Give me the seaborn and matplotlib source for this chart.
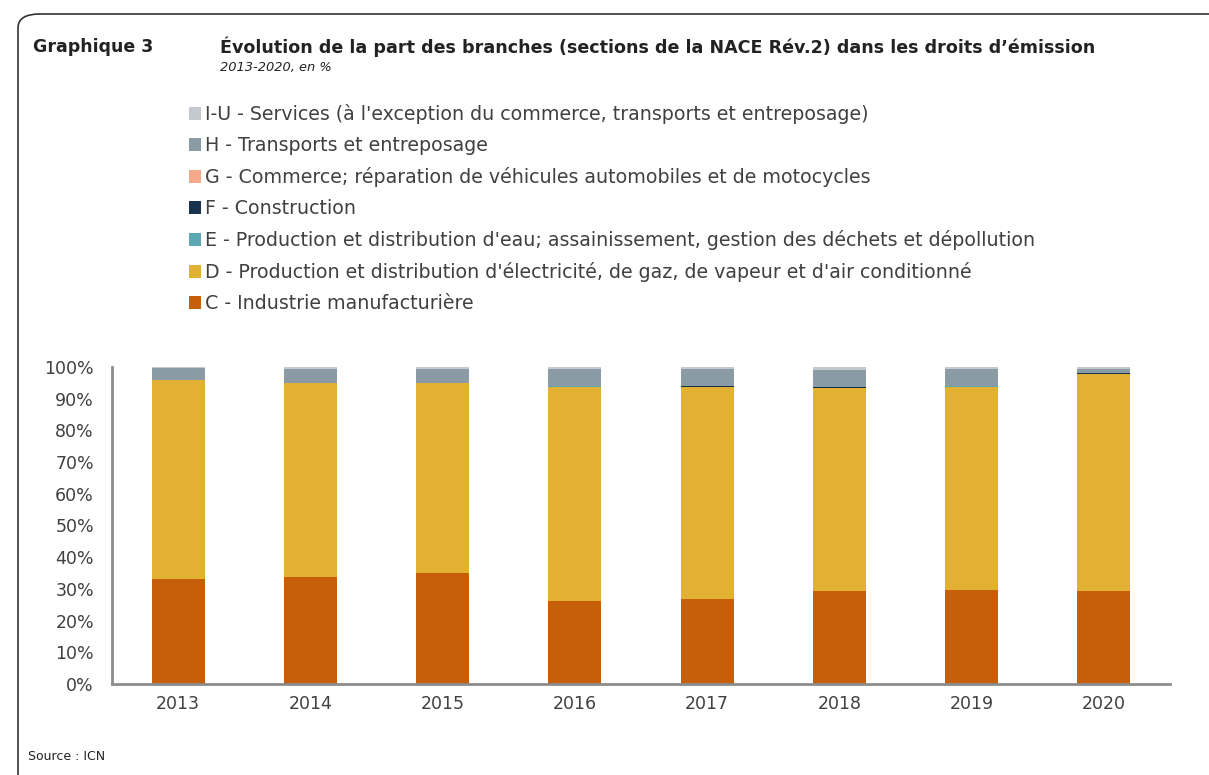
import numpy as np
import pandas as pd
import matplotlib
matplotlib.use("Agg")
import matplotlib.pyplot as plt
import seaborn as sns
from matplotlib.patches import FancyBboxPatch, Patch

sns.set_style("white")
plt.rcParams['font.family'] = ['DejaVu Sans']

years = ["2013", "2014", "2015", "2016", "2017", "2018", "2019", "2020"]
C = [33.0, 33.7, 35.0, 26.1, 26.9, 29.2, 29.7, 29.2]
D = [62.8, 61.2, 59.9, 67.6, 66.8, 64.2, 64.0, 68.6]
E = [0.0, 0.0, 0.0, 0.3, 0.1, 0.1, 0.2, 0.1]
F = [0.0, 0.0, 0.0, 0.1, 0.3, 0.3, 0.1, 0.3]
G = [0.0, 0.0, 0.0, 0.0, 0.0, 0.0, 0.0, 0.0]
H = [4.0, 4.5, 4.5, 5.3, 5.3, 5.3, 5.4, 1.2]
IU = [0.2, 0.6, 0.6, 0.6, 0.6, 0.9, 0.6, 0.6]

labels = [
    "C - Industrie manufacturière",
    "D - Production et distribution d'électricité, de gaz, de vapeur et d'air conditionné",
    "E - Production et distribution d'eau; assainissement, gestion des déchets et dépollution",
    "F - Construction",
    "G - Commerce; réparation de véhicules automobiles et de motocycles",
    "H - Transports et entreposage",
    "I-U - Services (à l'exception du commerce, transports et entreposage)",
]
colors = ["#C55F09", "#E2B033", "#5BA8B5", "#17324F", "#F5A88A", "#8A9BA5", "#C3C9CF"]
series = [C, D, E, F, G, H, IU]

df = pd.DataFrame({"year": years})
cum = np.zeros(len(years))
cols = []
for i, s in enumerate(series):
    cum = cum + np.array(s)
    df[f"cum{i}"] = cum
    cols.append(f"cum{i}")

fig = plt.figure(figsize=(12.09, 7.75), dpi=100)
ax = fig.add_axes([112/1209, 1-684/775, (1170-112)/1209, (684-367)/775])

for i in reversed(range(len(series))):
    sns.barplot(data=df, x="year", y=cols[i], color=colors[i], width=0.4,
                saturation=1, ax=ax, order=years, errorbar=None, linewidth=0)

ax.set_xlabel("")
ax.set_ylabel("")
ax.set_ylim(0, 100)
ax.set_xlim(-0.5, 7.5)
gray = "#8C8C8C"
txt = "#404040"
for side in ["top", "right"]:
    ax.spines[side].set_visible(False)
for side in ["left", "bottom"]:
    ax.spines[side].set_color(gray)
    ax.spines[side].set_linewidth(2)
ax.set_yticks(np.arange(0, 101, 10))
ax.set_yticklabels([f"{v}%" for v in range(0, 101, 10)], fontsize=12.5, color=txt)
ax.set_xticks(range(len(years)))
ax.set_xticklabels(years, fontsize=12.5, color=txt)
ax.set_xticks(np.arange(-0.5, 8, 1), minor=True)
ax.tick_params(axis="x", which="major", length=0, pad=8)
ax.tick_params(axis="x", which="minor", length=6, width=2, color=gray, direction="out")
ax.tick_params(axis="y", which="major", length=6, width=2, color=gray, direction="out", pad=7)

handles = [Patch(facecolor=colors[i], edgecolor="none", label=labels[i]) for i in reversed(range(len(series)))]
fig.legend(handles=handles, loc="upper left", bbox_to_anchor=(189/1209, 1-104/775),
           frameon=False, fontsize=13.7, handlelength=0.65, handleheight=0.65,
           handletextpad=0.2, labelspacing=0.63, labelcolor=txt, borderaxespad=0, borderpad=0)

fig.text(33/1209, 1-47/775, "Graphique 3", fontsize=12.5, fontweight="bold", color="#222222", va="center")
fig.text(220/1209, 1-47/775, "Évolution de la part des branches (sections de la NACE Rév.2) dans les droits d’émission",
         fontsize=12.6, fontweight="bold", color="#222222", va="center")
fig.text(220/1209, 1-67/775, "2013-2020, en %", fontsize=9.4, fontstyle="italic", color="#222222", va="center")
fig.text(28/1209, 1-757/775, "Source : ICN", fontsize=9, color="#222222", va="center")

border = FancyBboxPatch((18/1209, -0.1), 1.2, 1.1 - 14/775,
                        boxstyle="round,pad=0,rounding_size=0.018", transform=fig.transFigure,
                        facecolor="none", edgecolor="#333333", linewidth=1.2, clip_on=False)
fig.patches.append(border)

fig.savefig("out.png", dpi=100)
